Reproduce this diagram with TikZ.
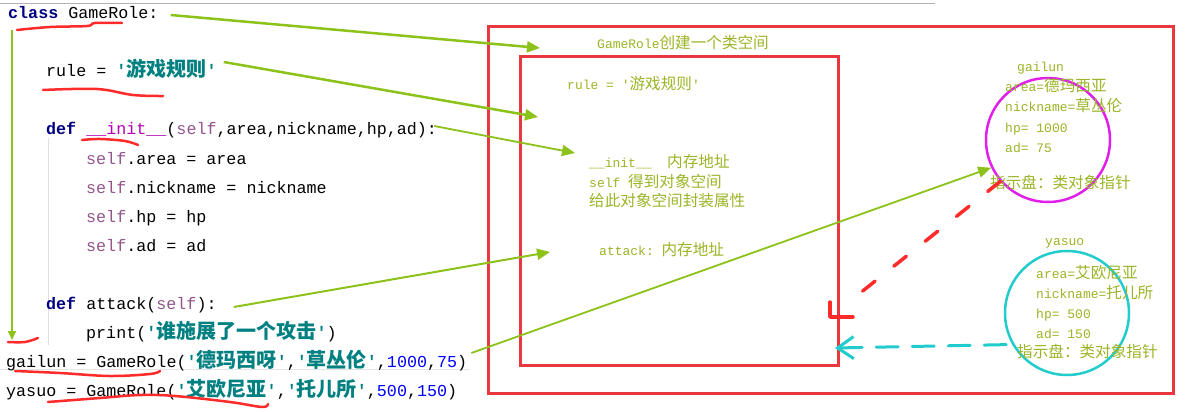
\documentclass[tikz,border=0pt]{standalone}
\usepackage{fontspec}
\usepackage{xcolor}
\setmonofont{Liberation Mono}
\newfontfamily\cjk[Scale=1.2]{Noto Sans CJK SC}
\usetikzlibrary{arrows.meta, calc, positioning}

\definecolor{kwnavy}{HTML}{000080}
\definecolor{selfpurple}{HTML}{94558D}
\definecolor{magicpurple}{HTML}{B200B2}
\definecolor{strteal}{HTML}{008080}
\definecolor{numblue}{HTML}{0000FF}
\definecolor{notegreen}{HTML}{9AB526}
\definecolor{arrowgreen}{HTML}{8CC21A}
\definecolor{boxred}{HTML}{E8373F}
\definecolor{inkred}{HTML}{FF2A2A}
\definecolor{ringmagenta}{HTML}{E020E8}
\definecolor{ringcyan}{HTML}{22CCCC}

\newcommand{\pykw}[1]{\textcolor{kwnavy}{\bfseries #1}}
\newcommand{\pyself}{\textcolor{selfpurple}{self}}
\newcommand{\pystr}[1]{\textcolor{strteal}{\bfseries '{\cjk #1}'}}
\newcommand{\pynum}[1]{\textcolor{numblue}{#1}}
\newcommand{\zh}[1]{{\cjk #1}}

\begin{document}
\begin{tikzpicture}[
x=1pt, y=-1pt,
    code/.style={anchor=base west, inner sep=0pt, font=\ttfamily\fontsize{16.7}{20}\selectfont},
    note/.style={anchor=base west, inner sep=0pt, text=notegreen, font=\ttfamily\fontsize{13}{16}\selectfont},
    frame/.style={draw=boxred, line width=3pt},
    pointer/.style={draw=arrowgreen, line width=2.5pt, -{Triangle[length=13pt,width=11pt]}},
    ink/.style={draw=inkred, line width=2.5pt, line cap=round, line join=round},
    ring/.style={circle, draw, line width=2.5pt, minimum size=124pt, inner sep=0pt}
]

    % --- Canvas ---
    \fill[white] (0,0) rectangle (1187,412);
    \useasboundingbox (0,0) rectangle (1187,412);
    \draw[gray!60, line width=1pt] (0,4) -- (935,4);
    \draw[gray!25, line width=0.8pt] (48,138) -- (48,345);
    \draw[gray!20, line width=0.8pt] (0,369) -- (470,369);

    % --- Source code ---
    \node[code] (clsline) at (8,19) {\pykw{class} GameRole:};
    \node[code] (ruleline) at (46,77) {rule = \pystr{游戏规则}};
    \node[code] (initline) at (46,135) {\pykw{def} \textcolor{magicpurple}{\_\_init\_\_}(\pyself,area,nickname,hp,ad):};
    \node[code] (arealine) at (86,164) {\pyself.area = area};
    \node[code] (nickline) at (86,193) {\pyself.nickname = nickname};
    \node[code] (hpline) at (86,222) {\pyself.hp = hp};
    \node[code] (adline) at (86,251) {\pyself.ad = ad};
    \node[code] (atkline) at (46,309) {\pykw{def} attack(\pyself):};
    \node[code] (printline) at (86,338) {print(\pystr{谁施展了一个攻击})};
    \node[code] (gailunline) at (6,367) {gailun = GameRole(\pystr{德玛西呀},\pystr{草丛伦},\pynum{1000},\pynum{75})};
    \node[code] (yasuoline) at (6,396) {yasuo = GameRole(\pystr{艾欧尼亚},\pystr{托儿所},\pynum{500},\pynum{150})};

    % --- Class space and object space ---
    \draw[frame] (488,27) rectangle (1173,393);
    \draw[frame] (520,57) rectangle (838,365);

    \node[note] (spacelabel) at (597,49) {GameRole\zh{创建一个类空间}};
    \node[note] (rulelabel) at (567,90) {rule = '\zh{游戏规则}'};
    \node[note] (initlabel) at (589,167) {\_\_init\_\_\ \ \zh{内存地址}};
    \node[note] (selflabel) at (589,187) {self \zh{得到对象空间}};
    \node[note] (packlabel) at (589,206) {\zh{给此对象空间封装属性}};
    \node[note] (atklabel) at (599,255) {attack: \zh{内存地址}};

    % -- Objects --
    \node[ring, draw=ringmagenta] (gailunobj) at (1048,140) {};
    \node[ring, draw=ringcyan] (yasuoobj) at (1067,313) {};

    \node[note] (gailunname) at (1017,72) {gailun};
    \node[note] (gailunarea) at (1005,92) {area=\zh{德玛西亚}};
    \node[note] (gailunnick) at (1005,112) {nickname=\zh{草丛伦}};
    \node[note] (gailunhp) at (1005,132) {hp= 1000};
    \node[note] (gailunad) at (1005,152) {ad= 75};
    \node[note] (gailunptr) at (990,188) {\zh{指示盘：类对象指针}};

    \node[note] (yasuoname) at (1045,245) {yasuo};
    \node[note] (yasuoarea) at (1036,278) {area=\zh{艾欧尼亚}};
    \node[note] (yasuonick) at (1036,298) {nickname=\zh{托儿所}};
    \node[note] (yasuohp) at (1036,318) {hp= 500};
    \node[note] (yasuoad) at (1036,338) {ad= 150};
    \node[note] (yasuoptr) at (1017,357) {\zh{指示盘：类对象指针}};

    % --- Green pointers ---
    \coordinate (spacetip) at (540,48);
    \coordinate (ruletip) at (538,117);
    \coordinate (inittip) at (575,153);
    \coordinate (atktip) at (550,252);

    \draw[pointer] ($(clsline.base east)+(12,-4)$) -- (spacetip);
    \draw[pointer] ($(ruleline.base east)+(7,-15)$) -- (ruletip);
    \draw[pointer, line width=1.8pt] ($(initline.base east)+(-3,-9)$) -- (inittip);
    \draw[pointer, line width=2pt] ($(atkline.base east)+(17,-2)$) -- (atktip);
    \draw[pointer, line width=1.8pt] ($(gailunline.base east)+(4,-14)$) -- (gailunobj.206);
    \draw[pointer, line width=2pt, -{Triangle[length=9pt,width=8pt]}] ($(clsline.base west)+(4,11)$) -- ($(gailunline.base west)+(6,-27)$);

    % --- Hand-drawn marks ---
    \draw[ink] plot[smooth, tension=0.6] coordinates {(17,30) (50,27) (87,26) (95,23) (122,23)};
    \draw[ink] plot[smooth, tension=0.6] coordinates {(43,90) (97,89) (133,95) (163,96)};
    \draw[ink] plot[smooth, tension=0.6] coordinates {(82,140) (100,139) (125,141) (138,145)};
    \draw[ink] plot[smooth, tension=0.6] coordinates {(8,342) (25,342) (38,338)};
    \draw[ink] plot[smooth, tension=0.6] coordinates {(15,371) (60,373) (110,376) (150,374) (160,371)};
    \draw[ink] plot[smooth, tension=0.6] coordinates {(48,402) (100,398) (140,395) (175,396) (230,402) (262,407) (268,404)};

    \coordinate (redtip) at (830,317);
    \coordinate (cyantip) at (835,348);

    \draw[ink, line width=3.5pt, dash pattern=on 16pt off 24pt, shorten >=22pt] (gailunobj.221) -- (redtip);
    \draw[ink, line width=3.5pt] ($(redtip)+(0,-15)$) -- (redtip) -- ($(redtip)+(23,0)$);
    \draw[draw=ringcyan, line width=3pt, line cap=round, dash pattern=on 22pt off 14pt,
          -{Straight Barb[length=16pt,width=22pt]}] ($(yasuoobj.210)+(-6,0)$) -- (cyantip);

\end{tikzpicture}
\end{document}
